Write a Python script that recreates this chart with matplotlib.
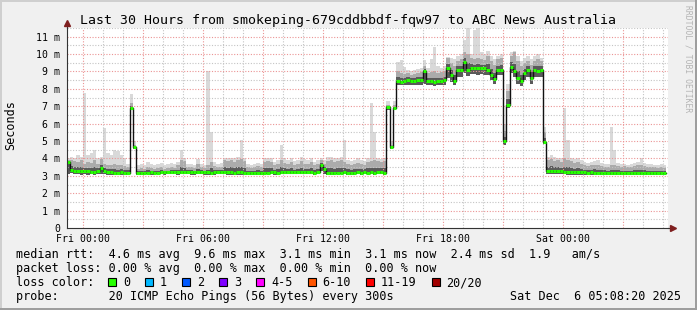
import numpy as np
import matplotlib
matplotlib.use('Agg')
import matplotlib.pyplot as plt
from matplotlib.patches import Rectangle

W, H = 697, 310
MONO = 'DejaVu Sans Mono'

title = 'Last 30 Hours from smokeping-679cddbbdf-fqw97 to ABC News Australia'

# 10 minute bins, time in hours relative to Fri 00:00
bin_hours = 1 / 6
first_bin = -5 / 6

# median rtt per bin (ms)
median = [
    3.8, 3.35, 3.3, 3.3, 3.25, 3.25, 3.25, 3.22, 3.2, 3.25, 3.45, 3.25, 3.22, 3.2, 3.18, 3.18, 3.2, 3.18,
    3.18, 6.9, 4.65, 3.15, 3.16, 3.15, 3.18, 3.2, 3.18, 3.18, 3.2, 3.22, 3.2, 3.2, 3.22, 3.2, 3.22, 3.2,
    3.22, 3.2, 3.2, 3.22, 3.24, 3.2, 3.2, 3.18, 3.2, 3.22, 3.22, 3.24, 3.2, 3.2, 3.18, 3.2, 3.2, 3.18,
    3.15, 3.15, 3.14, 3.15, 3.16, 3.18, 3.18, 3.2, 3.2, 3.18, 3.2, 3.22, 3.2, 3.2, 3.2, 3.22, 3.2, 3.2,
    3.2, 3.2, 3.18, 3.2, 3.6, 3.4, 3.15, 3.15, 3.16, 3.18, 3.18, 3.2, 3.18, 3.16, 3.18, 3.2, 3.18, 3.2,
    3.18, 3.2, 3.18, 3.2, 3.2, 3.18, 6.95, 4.65, 6.9, 8.45, 8.42, 8.45, 8.5, 8.48, 8.45, 8.5, 8.52, 9.05,
    8.45, 8.45, 8.42, 8.45, 8.45, 8.5, 9.2, 8.8, 8.45, 9.1, 9.1, 9.55, 9.1, 9.18, 9.2, 9.18, 9.2, 9.18,
    9.1, 8.8, 8.55, 9.1, 9.1, 5.0, 7.1, 9.27, 9.0, 8.6, 8.45, 8.9, 9.1, 8.65, 9.1, 9.05, 9.1, 4.96,
    3.28, 3.3, 3.28, 3.25, 3.25, 3.22, 3.22, 3.2, 3.2, 3.22, 3.2, 3.2, 3.18, 3.2, 3.18, 3.18, 3.16, 3.18,
    3.16, 3.15, 3.16, 3.15, 3.15, 3.14, 3.15, 3.16, 3.15, 3.14, 3.15, 3.15, 3.14, 3.15, 3.14, 3.15, 3.15, 3.14,
]

# lowest ping per bin (ms)
smoke_lo = [
    3.1, 3.15, 3.1, 3.1, 3.05, 3.1, 3.05, 3.1, 3.05, 3.1, 3.1, 3.1, 3.05, 3.05, 3.05, 3.05, 3.05, 3.05,
    3.05, 6.8, 4.55, 3.05, 3.05, 3.05, 3.08, 3.05, 3.05, 3.08, 3.1, 3.05, 3.08, 3.1, 3.08, 3.05, 3.08, 3.1,
    3.08, 3.05, 3.05, 3.08, 3.1, 3.05, 3.05, 3.03, 3.05, 3.08, 3.08, 3.1, 3.05, 3.05, 3.03, 3.05, 3.05, 3.03,
    3.03, 3.02, 3.02, 3.03, 3.05, 3.05, 3.08, 3.08, 3.05, 3.05, 3.08, 3.1, 3.08, 3.08, 3.08, 3.1, 3.08, 3.08,
    3.08, 3.08, 3.06, 3.08, 3.3, 3.1, 3.05, 3.05, 3.06, 3.08, 3.08, 3.08, 3.06, 3.05, 3.06, 3.08, 3.06, 3.08,
    3.08, 3.08, 3.06, 3.08, 3.08, 3.06, 6.8, 4.55, 6.8, 8.2, 8.2, 8.2, 8.25, 8.25, 8.2, 8.25, 8.25, 8.3,
    8.2, 8.2, 8.15, 8.2, 8.2, 8.25, 8.6, 8.4, 8.2, 8.7, 8.7, 8.9, 8.75, 8.85, 8.85, 8.8, 8.85, 8.8,
    8.8, 8.5, 8.3, 8.8, 8.8, 4.8, 6.9, 8.9, 8.7, 8.3, 8.15, 8.5, 8.7, 8.3, 8.7, 8.7, 8.7, 4.85,
    3.12, 3.12, 3.1, 3.1, 3.08, 3.08, 3.06, 3.06, 3.05, 3.06, 3.05, 3.05, 3.03, 3.05, 3.03, 3.03, 3.02, 3.03,
    3.03, 3.02, 3.03, 3.03, 3.02, 3.02, 3.03, 3.02, 3.02, 3.03, 3.02, 3.02, 3.02, 3.03, 3.02, 3.02, 3.02, 3.02,
]

# top of the dense smoke per bin (ms)
smoke_top = [
    3.9, 3.9, 3.85, 3.8, 3.9, 3.7, 3.8, 3.75, 3.9, 3.7, 3.95, 3.7, 3.6, 3.65, 3.7, 3.6, 3.65, 3.55,
    3.5, 7.2, 4.8, 3.4, 3.45, 3.4, 3.5, 3.45, 3.4, 3.45, 3.5, 3.4, 3.45, 3.5, 3.45, 3.6, 3.9, 3.85,
    3.5, 3.5, 3.45, 3.7, 3.5, 3.45, 3.6, 3.8, 3.55, 3.5, 3.5, 3.9, 3.85, 3.9, 3.8, 3.9, 3.95, 3.85,
    3.5, 3.45, 3.5, 3.55, 3.5, 3.8, 3.85, 3.8, 3.6, 3.7, 3.9, 3.75, 3.7, 3.8, 3.6, 3.7, 3.85, 3.7,
    3.7, 3.8, 3.6, 3.7, 3.9, 3.7, 3.85, 3.9, 3.8, 3.85, 3.9, 3.8, 3.7, 3.65, 3.7, 3.75, 3.7, 3.65,
    3.8, 3.85, 3.9, 3.85, 3.8, 3.85, 7.1, 4.8, 7.1, 9.0, 8.9, 8.85, 8.9, 8.8, 8.85, 8.9, 8.95, 9.3,
    8.9, 8.95, 9.0, 8.9, 8.95, 9.0, 9.75, 9.5, 9.3, 9.6, 9.7, 10.1, 10.0, 9.8, 9.7, 9.75, 9.7, 9.65,
    9.9, 9.6, 9.4, 9.7, 9.8, 5.6, 7.9, 9.9, 10.1, 9.6, 9.3, 9.5, 9.6, 9.4, 9.6, 9.7, 9.6, 5.5,
    3.9, 3.95, 3.85, 3.9, 3.8, 4.0, 3.9, 3.85, 3.75, 3.8, 3.7, 3.6, 3.55, 3.6, 3.65, 3.6, 3.55, 3.5,
    3.5, 3.6, 3.65, 3.55, 3.5, 3.55, 3.5, 3.5, 3.55, 3.6, 3.65, 3.55, 3.5, 3.5, 3.5, 3.45, 3.5, 3.45,
]

# highest ping per bin (ms)
smoke_max = [
    4.0, 4.1, 4.0, 4.2, 4.1, 7.75, 4.2, 4.3, 4.5, 4.0, 4.1, 5.75, 4.3, 4.2, 4.5, 4.4, 4.2, 4.0,
    3.7, 7.7, 5.0, 3.6, 3.7, 3.6, 3.8, 3.7, 3.6, 3.7, 3.75, 3.6, 3.7, 3.75, 3.7, 3.8, 4.5, 4.0,
    3.7, 3.7, 3.65, 3.95, 3.7, 3.65, 9.0, 5.5, 3.8, 3.7, 3.75, 4.0, 4.0, 4.05, 4.0, 4.1, 5.05, 4.0,
    3.7, 3.65, 3.7, 3.75, 3.7, 4.0, 4.05, 4.0, 3.8, 3.9, 4.8, 4.0, 3.9, 4.0, 3.85, 3.9, 4.1, 3.95,
    3.9, 4.0, 3.8, 3.9, 4.0, 3.9, 4.1, 4.1, 4.0, 4.0, 4.1, 5.05, 3.9, 3.85, 3.9, 4.0, 3.9, 3.85,
    4.0, 7.2, 5.5, 4.0, 3.95, 4.0, 7.3, 5.0, 7.3, 9.55, 9.65, 9.25, 9.1, 9.0, 9.1, 9.15, 9.2, 9.65,
    9.2, 9.7, 10.4, 9.3, 9.2, 9.3, 9.85, 9.8, 9.7, 9.9, 10.0, 10.8, 11.5, 10.0, 11.4, 11.5, 10.1, 10.0,
    10.2, 9.9, 9.7, 9.9, 10.0, 6.0, 8.3, 10.1, 10.2, 9.9, 9.6, 9.8, 9.9, 9.7, 9.9, 10.0, 9.8, 5.8,
    4.1, 4.2, 4.1, 4.0, 4.0, 6.9, 5.05, 4.0, 3.95, 4.0, 3.9, 3.8, 3.75, 3.8, 3.85, 3.9, 3.75, 3.7,
    3.7, 5.8, 4.5, 3.75, 3.7, 3.7, 3.65, 3.7, 3.75, 3.8, 4.0, 3.75, 3.7, 3.7, 3.65, 3.6, 3.7, 3.6,
]

x_tick_hours = [0, 6, 12, 18, 24]
x_tick_labels = ['Fri 00:00', 'Fri 06:00', 'Fri 12:00', 'Fri 18:00', 'Sat 00:00']
y_tick_values = list(range(12))
y_tick_labels = ['0'] + ['%d m' % v for v in range(1, 12)]

rtt_stats = [('avg', 4.6), ('max', 9.6), ('min', 3.1), ('now', 3.1), ('sd', 2.4)]
rtt_am_s = 1.9
loss_stats = [('avg', 0.0), ('max', 0.0), ('min', 0.0), ('now', 0.0)]
loss_labels = ['0', '1', '2', '3', '4-5', '6-10', '11-19', '20/20']
loss_colors = ['#26ff00', '#00b8ff', '#0059ff', '#7e00ff', '#ff00ff', '#ff5500', '#ff0000', '#a10000']
probe_text = '20 ICMP Echo Pings (56 Bytes) every 300s'
stamp = 'Sat Dec  6 05:08:20 2025'


def fx(px):
    return px / W


def fy(py):
    return 1 - py / H


def ext(a):
    a = np.asarray(a, dtype=float)
    return np.append(a, a[-1])


med = np.array(median)
lo = np.array(smoke_lo)
top = np.array(smoke_top)
hi = np.array(smoke_max)
n = len(med)
edges = first_bin + bin_hours * np.arange(n + 1)

fig = plt.figure(figsize=(W / 100, H / 100), dpi=100, facecolor='#f0f0f0')

# 3d-ish frame
fig.patches.append(Rectangle((0, fy(2)), 1, fy(0) - fy(2), transform=fig.transFigure, color='#cfcfcf', lw=0))
fig.patches.append(Rectangle((0, 0), fx(2), 1, transform=fig.transFigure, color='#cfcfcf', lw=0))
fig.patches.append(Rectangle((0, 0), 1, 1 - fy(2), transform=fig.transFigure, color='#9e9e9e', lw=0))
fig.patches.append(Rectangle((fx(W - 2), 0), fx(2), 1, transform=fig.transFigure, color='#9e9e9e', lw=0))

ax = fig.add_axes([fx(67), fy(228), fx(601), 200 / H])
ax.set_facecolor('white')
ax.set_xlim(-0.8, 29.25)
ax.set_ylim(0, 11.5)

# smoke
ax.fill_between(edges, ext(lo), ext(hi), step='post', color='#d9d9d9', lw=0, zorder=1)
ax.fill_between(edges, ext(lo), ext(top), step='post', color='#ababab', lw=0, zorder=1.1)
core = med + 0.4 * (top - med)
ax.fill_between(edges, ext(lo), ext(core), step='post', color='#5a5a5a', lw=0, zorder=1.2)

# grid
dots = (0, (1, 1.5))
minor_c = '#c4c4c4'
major_c = '#eb9494'
for h in np.arange(0, 29.5, 1):
    ax.axvline(h, color=major_c if h % 3 == 0 else minor_c, lw=0.8, ls=dots, zorder=2)
for v in np.arange(0.5, 11.6, 0.5):
    ax.axhline(v, color=minor_c if v % 1 else major_c, lw=0.8, ls=dots, zorder=2)

# median: thin dark step line, loss coloured segments on top
ax.step(edges, ext(med), where='post', color='#111111', lw=1.0, zorder=3)
ax.hlines(med, edges[:-1], edges[1:], color=loss_colors[0], lw=2.2, zorder=4)

for s in ['top', 'right']:
    ax.spines[s].set_visible(False)
for s in ['left', 'bottom']:
    ax.spines[s].set_color('#333333')
    ax.spines[s].set_linewidth(0.8)
    ax.spines[s].set_zorder(5)
ax.plot([0, 0], [1, 1.02], transform=ax.transAxes, color='#333333', lw=0.8, clip_on=False)
ax.plot([1, 1.006], [0, 0], transform=ax.transAxes, color='#333333', lw=0.8, clip_on=False)
ax.plot([0], [1.025], marker='^', ms=4.5, color='#7f1f1f', transform=ax.transAxes, clip_on=False)
ax.plot([1.008], [0], marker='>', ms=4.5, color='#7f1f1f', transform=ax.transAxes, clip_on=False)

ax.set_xticks(x_tick_hours, x_tick_labels, fontfamily=MONO, fontsize=7.1)
ax.set_yticks(y_tick_values, y_tick_labels, fontfamily=MONO, fontsize=7.1)
ax.tick_params(axis='x', length=0, pad=4.5)
ax.tick_params(axis='y', length=0, pad=5)

fig.text(fx(348), fy(24), title, fontfamily=MONO, fontsize=9.5, ha='center', va='baseline')
fig.text(fx(11), fy(125), 'Seconds', fontfamily=MONO, fontsize=8.5, rotation=90, ha='center', va='center')
fig.text(fx(688), fy(5), 'RRDTOOL / TOBI OETIKER', fontfamily=MONO, fontsize=5.8,
         rotation=-90, ha='center', va='top', color='#b4b4b4')

# legend block
line1 = 'median rtt:  ' + '  '.join('%.1f ms %s' % (v, k) for k, v in rtt_stats) + '  %.1f   am/s' % rtt_am_s
line2 = 'packet loss: ' + '  '.join('%.2f %% %s' % (v, k) for k, v in loss_stats)
fs = 8.5
cw = 7.1
fig.text(fx(16), fy(258), line1, fontfamily=MONO, fontsize=fs, va='baseline')
fig.text(fx(16), fy(272), line2, fontfamily=MONO, fontsize=fs, va='baseline')
fig.text(fx(16), fy(286), 'loss color:', fontfamily=MONO, fontsize=fs, va='baseline')
bx = 108
for lab, col in zip(loss_labels, loss_colors):
    fig.patches.append(Rectangle((fx(bx), fy(286)), fx(8), fy(278) - fy(286), transform=fig.transFigure,
                                 facecolor=col, edgecolor='black', lw=0.8))
    fig.text(fx(bx + 15), fy(286), lab, fontfamily=MONO, fontsize=fs, va='baseline')
    bx = bx + 15 + len(lab) * cw + 15
fig.text(fx(16), fy(300), 'probe:       ' + probe_text, fontfamily=MONO, fontsize=fs, va='baseline')
fig.text(fx(681), fy(300), stamp, fontfamily=MONO, fontsize=fs, va='baseline', ha='right')

fig.savefig('out.png', dpi=100, facecolor=fig.get_facecolor())
